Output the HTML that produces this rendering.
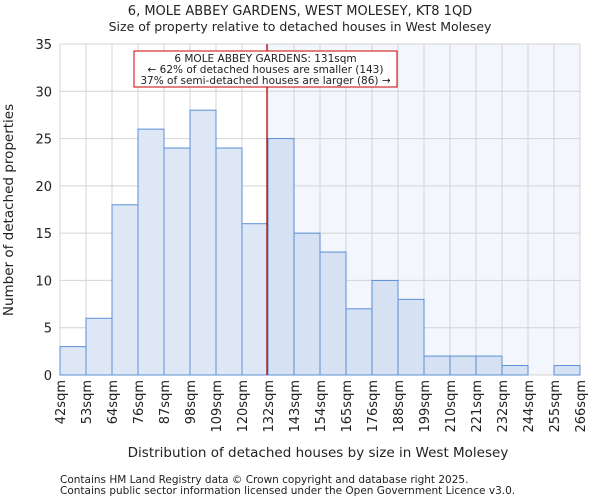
<!DOCTYPE html>
<html><head><meta charset="utf-8"><style>
body{margin:0;background:#fff;font-family:"DejaVu Sans","Liberation Sans",sans-serif;}
svg text{font-family:"DejaVu Sans","Liberation Sans",sans-serif;fill:#222;}
</style></head><body>
<svg id="chart" width="600" height="500" viewBox="0 0 600 500">
<text x="300" y="15" text-anchor="middle" font-size="13">6, MOLE ABBEY GARDENS, WEST MOLESEY, KT8 1QD</text>
<text x="300" y="31" text-anchor="middle" font-size="12.5">Size of property relative to detached houses in West Molesey</text>
<g id="plot"></g>
<text x="318" y="457" text-anchor="middle" font-size="13.5">Distribution of detached houses by size in West Molesey</text>
<text transform="translate(13,210) rotate(-90)" text-anchor="middle" font-size="13.5">Number of detached properties</text>
<text x="60" y="483" font-size="10.5">Contains HM Land Registry data © Crown copyright and database right 2025.</text>
<text x="60" y="494" font-size="10.5">Contains public sector information licensed under the Open Government Licence v3.0.</text>
</svg>
<script>
const binLabels=["42sqm","53sqm","64sqm","76sqm","87sqm","98sqm","109sqm","120sqm","132sqm","143sqm","154sqm","165sqm","176sqm","188sqm","199sqm","210sqm","221sqm","232sqm","244sqm","255sqm","266sqm"];
const counts=[3,6,18,26,24,28,24,16,25,15,13,7,10,8,2,2,2,1,0,1];
const yTicks=[0,5,10,15,20,25,30,35];
const markerBin=7.96;
const NS="http://www.w3.org/2000/svg";
const g=document.getElementById('plot');
const X0=60,X1=580,Y0=375,Y1=44,YMAX=35;
const bw=(X1-X0)/counts.length;
const xs=i=>X0+i*bw;
const ys=v=>Y0-(v/YMAX)*(Y0-Y1);
function mk(t,a){const e=document.createElementNS(NS,t);for(const k in a)e.setAttribute(k,a[k]);g.appendChild(e);return e;}
const mx=xs(markerBin);
let e=mk('rect',{x:mx,y:Y1,width:X1-mx,height:Y0-Y1,fill:'#f3f6fd'});


yTicks.forEach(t=>{
 let l=mk('line',{x1:X0,x2:X1,y1:ys(t),y2:ys(t),stroke:'#d4d4d4','stroke-width':1});
 
 
 let tx=mk('text',{x:X0-8,y:ys(t)+5,'text-anchor':'end','font-size':'13'});
 tx.textContent=t;
 
 
});
binLabels.forEach((lab,i)=>{
 let l=mk('line',{x1:xs(i),x2:xs(i),y1:Y1,y2:Y0,stroke:'#d4d4d4','stroke-width':1});
 
 
 let tx=mk('text',{transform:`translate(${xs(i)+5},380) rotate(-90)`,'text-anchor':'end','font-size':'13'});
 tx.textContent=lab;
 
 
});
counts.forEach((c,i)=>{
 if(c<=0)return;
 let r=mk('rect',{x:xs(i),y:ys(c),width:bw,height:Y0-ys(c),fill:(i<markerBin?'#dde7f5':'#d6e2f3'),stroke:'#5b8fd6','stroke-width':1});
 
 
});
e=mk('line',{x1:mx,x2:mx,y1:Y1,y2:Y0,stroke:'#aa0000','stroke-width':1.2});


e=mk('rect',{x:134,y:51,width:263,height:36,fill:'#fff',stroke:'#cc0000','stroke-width':1});


["6 MOLE ABBEY GARDENS: 131sqm","← 62% of detached houses are smaller (143)","37% of semi-detached houses are larger (86) →"].forEach((s,k)=>{
 let tx=mk('text',{x:265.5,y:62+k*11,'text-anchor':'middle','font-size':'10.5'});
 tx.textContent=s;
 
 
});
</script>
</body></html>
